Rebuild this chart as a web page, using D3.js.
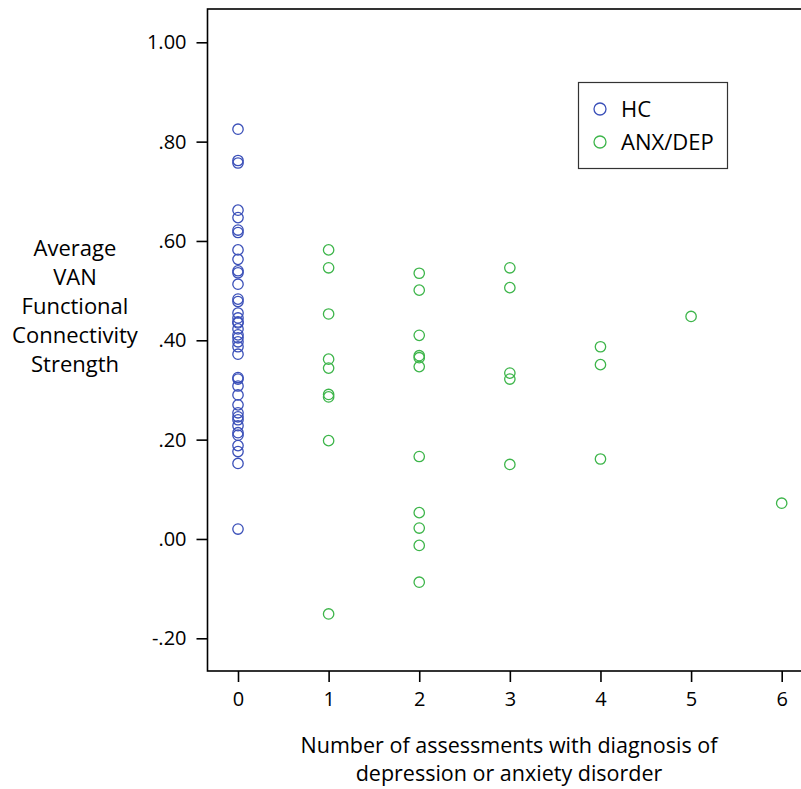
<!DOCTYPE html>
<html><head><meta charset="utf-8">
<script src="https://cdn.jsdelivr.net/npm/d3@7"></script>
<style>body{margin:0;background:#fff;overflow:hidden} text{font-family:"Open Sans",sans-serif;fill:#000}</style>
</head><body><svg id="c" width="801" height="789"></svg>
<script>
const xTicks = [0, 1, 2, 3, 4, 5, 6];
const yTicks = [1.0, 0.8, 0.6, 0.4, 0.2, 0.0, -0.2];
const yTickLabels = ["1.00", ".80", ".60", ".40", ".20", ".00", "-.20"];
const seriesNames = ["HC", "ANX/DEP"];
const seriesColors = ["#3a4fb8", "#3db54a"];
const hcValues = [0.825, 0.762, 0.757, 0.662, 0.647, 0.622, 0.617, 0.582, 0.563, 0.540, 0.536, 0.513,
  0.483, 0.478, 0.455, 0.445, 0.437, 0.435, 0.423, 0.411, 0.405, 0.397, 0.387, 0.372, 0.325, 0.322,
  0.308, 0.290, 0.270, 0.254, 0.246, 0.240, 0.228, 0.214, 0.209, 0.188, 0.176, 0.152, 0.020];
const anxCounts = [1, 1, 1, 1, 1, 1, 1, 1, 1,
  2, 2, 2, 2, 2, 2, 2, 2, 2, 2, 2,
  3, 3, 3, 3, 3,
  4, 4, 4,
  5,
  6];
const anxValues = [0.582, 0.546, 0.453, 0.362, 0.344, 0.291, 0.286, 0.198, -0.151,
  0.535, 0.501, 0.410, 0.369, 0.365, 0.347, 0.166, 0.053, 0.022, -0.013, -0.087,
  0.546, 0.506, 0.334, 0.322, 0.150,
  0.387, 0.351, 0.161,
  0.448,
  0.072];
const xTitle = ["Number of assessments with diagnosis of", "depression or anxiety disorder"];
const yTitle = ["Average", "VAN", "Functional", "Connectivity", "Strength"];

const svg = d3.select("#c");
const x = d3.scaleLinear().domain([0, 6]).range([238, 781.7]);
const y = d3.scaleLinear().domain([-0.2, 1.0]).range([638.3, 42.3]);
const frame = {left: 207.5, top: 9, bottom: 671};

svg.append("rect").attr("x", frame.left).attr("y", frame.top)
  .attr("width", 700).attr("height", frame.bottom - frame.top)
  .attr("fill", "none").attr("stroke", "#000").attr("stroke-width", 1.6);

const yAxis = svg.append("g").attr("transform", `translate(${frame.left},0)`)
  .call(d3.axisLeft(y).tickValues(yTicks).tickFormat((d, i) => yTickLabels[i]).tickSize(11).tickPadding(10));
const xAxis = svg.append("g").attr("transform", `translate(0,${frame.bottom})`)
  .call(d3.axisBottom(x).tickValues(xTicks).tickFormat(d3.format("d")).tickSize(11).tickPadding(10));
[yAxis, xAxis].forEach(g => {
  g.select(".domain").remove();
  g.selectAll(".tick line").attr("stroke", "#000").attr("stroke-width", 1.6);
  g.selectAll(".tick text").style("font-family", '"Open Sans",sans-serif').style("font-size", "20px").attr("fill", "#000");
});

const hc = hcValues.map(v => ({c: 0, v}));
const anx = anxValues.map((v, i) => ({c: anxCounts[i], v}));
svg.append("g").selectAll("circle").data(hc).join("circle")
  .attr("cx", d => x(d.c)).attr("cy", d => y(d.v)).attr("r", 5.2)
  .attr("fill", "none").attr("stroke", seriesColors[0]).attr("stroke-width", 1.3);
svg.append("g").selectAll("circle").data(anx).join("circle")
  .attr("cx", d => x(d.c)).attr("cy", d => y(d.v)).attr("r", 5.2)
  .attr("fill", "none").attr("stroke", seriesColors[1]).attr("stroke-width", 1.3);

// y title
const yt = svg.append("text").attr("text-anchor", "middle").style("font-size", "22px");
yTitle.forEach((t, i) => yt.append("tspan").attr("x", 75).attr("y", 255.5 + i * 29).text(t));
// x title
const xt = svg.append("text").attr("text-anchor", "middle").style("font-size", "21.5px");
xTitle.forEach((t, i) => xt.append("tspan").attr("x", 509).attr("y", 753 + i * 28).text(t));

// legend
const lg = svg.append("g");
lg.append("rect").attr("x", 578.5).attr("y", 82.5).attr("width", 149).attr("height", 86)
  .attr("fill", "#fff").attr("stroke", "#333").attr("stroke-width", 1.2);
seriesNames.forEach((n, i) => {
  lg.append("circle").attr("cx", 600).attr("cy", 109 + i * 33).attr("r", 6)
    .attr("fill", "none").attr("stroke", seriesColors[i]).attr("stroke-width", 1.3);
  lg.append("text").attr("x", 621).attr("y", 117 + i * 33).style("font-size", "22px").text(n);
});
</script></body></html>
